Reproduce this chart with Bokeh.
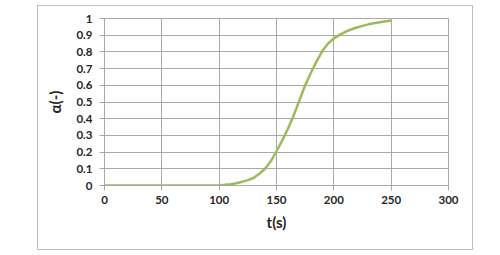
from bokeh.plotting import figure
from bokeh.models import FixedTicker, CustomJSTickFormatter, Range1d, Column
from bokeh.embed import file_html
from bokeh.resources import INLINE

t_values = [0, 50, 100, 105, 110, 115, 120, 125, 130, 135, 140, 145, 150, 155, 160, 165, 170, 175,
            180, 185, 190, 195, 200, 205, 210, 215, 220, 225, 230, 235, 240, 245, 250]
alpha_values = [0, 0, 0.002, 0.004, 0.008, 0.014, 0.022, 0.032, 0.045, 0.07, 0.10, 0.145, 0.205, 0.27,
                0.34, 0.42, 0.51, 0.60, 0.675, 0.745, 0.805, 0.85, 0.881, 0.902, 0.92, 0.934, 0.946,
                0.956, 0.965, 0.972, 0.978, 0.983, 0.987]
x_ticks = [0, 50, 100, 150, 200, 250, 300]
y_ticks = [0, 0.1, 0.2, 0.3, 0.4, 0.5, 0.6, 0.7, 0.8, 0.9, 1]

grid_color = "#a8a8a8"
font = "Lato"

p = figure(width=434, height=243, output_backend="svg", toolbar_location=None,
           x_range=Range1d(0, 300), y_range=Range1d(0, 1),
           min_border_left=66, min_border_right=24, min_border_top=12, min_border_bottom=64)
p.background_fill_color = "white"
p.border_fill_color = "white"
p.outline_line_color = grid_color

p.line(t_values, alpha_values, line_color="#9BBB59", line_width=2.5)

p.xaxis.ticker = FixedTicker(ticks=x_ticks)
p.yaxis.ticker = FixedTicker(ticks=y_ticks)
p.yaxis.formatter = CustomJSTickFormatter(code="return String(Math.round(tick*10)/10);")

for ax in (p.xaxis[0], p.yaxis[0]):
    ax.axis_line_color = grid_color
    ax.major_tick_line_color = grid_color
    ax.major_tick_out = 5
    ax.major_tick_in = 0
    ax.minor_tick_line_color = None
    ax.major_label_text_font = font
    ax.major_label_text_font_style = "bold"
    ax.major_label_text_font_size = "11.5px"
    ax.major_label_text_color = "#262626"
    ax.axis_label_text_font = font
    ax.axis_label_text_font_style = "bold"
    ax.axis_label_text_font_size = "15px"
    ax.axis_label_text_color = "#262626"

p.xaxis.axis_label = "t(s)"
p.yaxis.axis_label = "α(-)"
p.xaxis.major_label_standoff = 5
p.yaxis.major_label_standoff = 7
p.xaxis.axis_label_standoff = 6
p.yaxis.axis_label_standoff = 9

p.xgrid.grid_line_color = grid_color
p.ygrid.grid_line_color = grid_color
p.xgrid.ticker = FixedTicker(ticks=x_ticks)
p.ygrid.ticker = FixedTicker(ticks=y_ticks)

layout = Column(children=[p], margin=(5, 0, 0, 37),
                styles={"border": "1px solid #bdbdbd"})

open("out.html", "w").write(file_html(layout, INLINE))
